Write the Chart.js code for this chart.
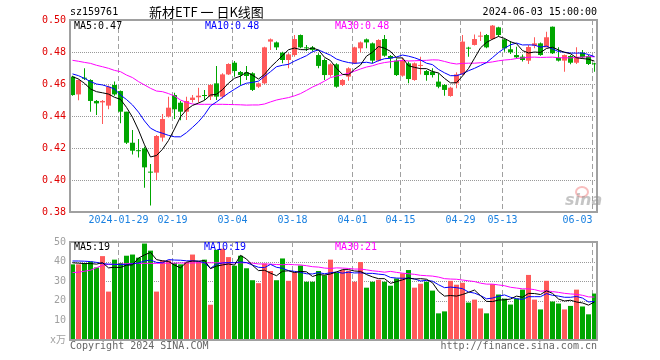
<!doctype html>
<html lang="zh">
<head>
  <meta charset="UTF-8">
  <title>新材ETF 日K线图</title>
  <script src="https://cdn.jsdelivr.net/npm/chart.js"></script>
  <style>
    body { margin: 0; background: #fff; }
    #wrap { position: relative; width: 660px; height: 360px; background: #fff; overflow: hidden; }
    canvas { position: absolute; left: 0; }
    .t { position: absolute; font: 10px/14px "DejaVu Sans Mono", monospace; white-space: pre; }
  </style>
</head>
<body>
<div id="wrap">
  <canvas id="kChart" width="660" height="232" style="top:0"></canvas>
  <canvas id="volChart" width="660" height="128" style="top:232px"></canvas>

  <div class="t" style="left:70px;top:5px;color:#000">sz159761</div>
  <div class="t" style="left:149px;top:3px;font:13px/17px 'Noto Sans CJK SC', sans-serif;color:#000">新材ETF 一 日K线图</div>
  <div class="t" style="right:63px;top:5px;color:#000">2024-06-03 15:00:00</div>

  <div class="t" style="left:74px;top:19px;color:#000">MA5:0.47</div>
  <div class="t" style="left:205px;top:19px;color:#0000ff">MA10:0.48</div>
  <div class="t" style="left:335px;top:19px;color:#ff00ff">MA30:0.48</div>

  <div class="t" style="left:74px;top:240px;color:#000">MA5:19</div>
  <div class="t" style="left:204px;top:240px;color:#0000ff">MA10:19</div>
  <div class="t" style="left:335px;top:240px;color:#ff00ff">MA30:21</div>

  <div class="t" style="left:70px;top:339px;color:#666">Copyright 2024 SINA.COM</div>
  <div class="t" style="right:63px;top:339px;color:#666">http://finance.sina.com.cn</div>

  <div style="position:absolute;left:575px;top:186px;width:10px;height:8px;border:2px solid rgba(240,110,110,0.45);border-radius:50%"></div>
  <div class="t" style="left:565px;top:191px;font:italic bold 16px/17px 'DejaVu Sans', sans-serif;color:rgba(150,150,150,0.55)">sina</div>
</div>
<script>
  // 日K数据 2024-01-17 ~ 2024-06-03，共88个交易日
  const opens = [
    0.4646, 0.4535, 0.4638, 0.4625, 0.4494, 0.4485, 0.4465, 0.4594, 0.4556, 0.4427,
    0.4233, 0.4183, 0.4198, 0.4048, 0.4046, 0.4265, 0.4396, 0.4531, 0.4483, 0.4427,
    0.4500, 0.4517, 0.4529, 0.4521, 0.4604, 0.4521, 0.4660, 0.4733, 0.4675, 0.4673,
    0.4667, 0.4583, 0.4604, 0.4865, 0.4860, 0.4796, 0.4750, 0.4781, 0.4906, 0.4829,
    0.4829, 0.4781, 0.4750, 0.4656, 0.4723, 0.4594, 0.4646, 0.4729, 0.4823, 0.4879,
    0.4854, 0.4746, 0.4881, 0.4775, 0.4746, 0.4652, 0.4729, 0.4625, 0.4713, 0.4681,
    0.4677, 0.4615, 0.4594, 0.4525, 0.4604, 0.4660, 0.4825, 0.4844, 0.4896, 0.4906,
    0.4881, 0.4954, 0.4879, 0.4817, 0.4781, 0.4771, 0.4746, 0.4840, 0.4854, 0.4829,
    0.4958, 0.4765, 0.4746, 0.4775, 0.4733, 0.4796, 0.4775, 0.4727
  ];
  const highs = [
    0.4652, 0.4629, 0.4698, 0.4629, 0.4500, 0.4500, 0.4590, 0.4615, 0.4560, 0.4427,
    0.4313, 0.4256, 0.4208, 0.4100, 0.4281, 0.4413, 0.4520, 0.4546, 0.4494, 0.4521,
    0.4531, 0.4577, 0.4563, 0.4600, 0.4713, 0.4667, 0.4729, 0.4744, 0.4681, 0.4713,
    0.4673, 0.4610, 0.4833, 0.4885, 0.4865, 0.4802, 0.4792, 0.4906, 0.4910, 0.4844,
    0.4838, 0.4792, 0.4760, 0.4729, 0.4729, 0.4631, 0.4704, 0.4833, 0.4865, 0.4885,
    0.4860, 0.4879, 0.4906, 0.4781, 0.4760, 0.4765, 0.4740, 0.4735, 0.4771, 0.4688,
    0.4698, 0.4667, 0.4600, 0.4583, 0.4673, 0.4906, 0.4833, 0.4910, 0.4927, 0.4913,
    0.4969, 0.4958, 0.4885, 0.4869, 0.4833, 0.4785, 0.4844, 0.4892, 0.4860, 0.4927,
    0.4960, 0.4829, 0.4785, 0.4781, 0.4829, 0.4813, 0.4781, 0.4733
  ];
  const lows = [
    0.4527, 0.4498, 0.4625, 0.4427, 0.4406, 0.4350, 0.4442, 0.4527, 0.4354, 0.4225,
    0.4160, 0.4140, 0.3952, 0.3840, 0.4000, 0.4240, 0.4390, 0.4381, 0.4373, 0.4375,
    0.4485, 0.4485, 0.4500, 0.4500, 0.4500, 0.4510, 0.4656, 0.4646, 0.4590, 0.4625,
    0.4556, 0.4575, 0.4600, 0.4813, 0.4813, 0.4729, 0.4698, 0.4771, 0.4823, 0.4806,
    0.4804, 0.4698, 0.4625, 0.4646, 0.4577, 0.4588, 0.4621, 0.4725, 0.4798, 0.4823,
    0.4729, 0.4740, 0.4771, 0.4698, 0.4650, 0.4646, 0.4604, 0.4621, 0.4660, 0.4621,
    0.4640, 0.4573, 0.4527, 0.4520, 0.4573, 0.4656, 0.4771, 0.4840, 0.4869, 0.4823,
    0.4875, 0.4896, 0.4802, 0.4788, 0.4760, 0.4740, 0.4725, 0.4823, 0.4777, 0.4829,
    0.4788, 0.4740, 0.4677, 0.4723, 0.4725, 0.4760, 0.4719, 0.4677
  ];
  const closes = [
    0.4531, 0.4625, 0.4633, 0.4494, 0.4479, 0.4494, 0.4583, 0.4535, 0.4427, 0.4233,
    0.4183, 0.4180, 0.4079, 0.4046, 0.4275, 0.4381, 0.4452, 0.4442, 0.4427, 0.4494,
    0.4515, 0.4527, 0.4525, 0.4594, 0.4521, 0.4660, 0.4725, 0.4681, 0.4656, 0.4650,
    0.4563, 0.4604, 0.4829, 0.4879, 0.4829, 0.4750, 0.4785, 0.4881, 0.4829, 0.4823,
    0.4813, 0.4713, 0.4656, 0.4723, 0.4583, 0.4625, 0.4698, 0.4829, 0.4860, 0.4860,
    0.4746, 0.4875, 0.4777, 0.4760, 0.4656, 0.4746, 0.4631, 0.4729, 0.4719, 0.4656,
    0.4656, 0.4583, 0.4563, 0.4577, 0.4660, 0.4865, 0.4821, 0.4881, 0.4902, 0.4829,
    0.4965, 0.4906, 0.4823, 0.4798, 0.4767, 0.4750, 0.4831, 0.4854, 0.4781, 0.4892,
    0.4792, 0.4746, 0.4781, 0.4733, 0.4767, 0.4767, 0.4725, 0.4723
  ];
  const ma5 = [
    0.4646, 0.4631, 0.4604, 0.4569, 0.4552, 0.4545, 0.4537, 0.4517, 0.4504, 0.4454,
    0.4392, 0.4312, 0.4220, 0.4144, 0.4153, 0.4192, 0.4247, 0.4319, 0.4395, 0.4439,
    0.4466, 0.4481, 0.4498, 0.4531, 0.4536, 0.4565, 0.4605, 0.4636, 0.4649, 0.4674,
    0.4655, 0.4631, 0.4660, 0.4705, 0.4741, 0.4778, 0.4814, 0.4825, 0.4815, 0.4814,
    0.4826, 0.4812, 0.4767, 0.4746, 0.4698, 0.4660, 0.4657, 0.4692, 0.4719, 0.4774,
    0.4799, 0.4834, 0.4824, 0.4804, 0.4763, 0.4763, 0.4714, 0.4704, 0.4696, 0.4696,
    0.4678, 0.4669, 0.4635, 0.4607, 0.4608, 0.4650, 0.4697, 0.4761, 0.4826, 0.4860,
    0.4880, 0.4897, 0.4885, 0.4864, 0.4852, 0.4809, 0.4794, 0.4800, 0.4797, 0.4822,
    0.4830, 0.4813, 0.4798, 0.4789, 0.4764, 0.4759, 0.4755, 0.4743
  ];
  const ma10 = [
    0.4663, 0.4652, 0.4635, 0.4615, 0.4600, 0.4594, 0.4583, 0.4569, 0.4531, 0.4503,
    0.4469, 0.4424, 0.4369, 0.4324, 0.4304, 0.4292, 0.4279, 0.4270, 0.4270, 0.4296,
    0.4329, 0.4364, 0.4408, 0.4463, 0.4488, 0.4516, 0.4543, 0.4567, 0.4590, 0.4605,
    0.4610, 0.4618, 0.4648, 0.4677, 0.4708, 0.4717, 0.4723, 0.4743, 0.4760, 0.4777,
    0.4802, 0.4813, 0.4796, 0.4780, 0.4756, 0.4743, 0.4734, 0.4729, 0.4732, 0.4736,
    0.4729, 0.4746, 0.4758, 0.4761, 0.4769, 0.4781, 0.4774, 0.4764, 0.4750, 0.4730,
    0.4721, 0.4691, 0.4670, 0.4652, 0.4652, 0.4664, 0.4683, 0.4698, 0.4716, 0.4734,
    0.4765, 0.4797, 0.4823, 0.4845, 0.4856, 0.4844, 0.4845, 0.4843, 0.4830, 0.4837,
    0.4819, 0.4803, 0.4799, 0.4793, 0.4793, 0.4794, 0.4784, 0.4771
  ];
  const ma30 = [
    0.4748, 0.4742, 0.4735, 0.4729, 0.4717, 0.4708, 0.4698, 0.4685, 0.4677, 0.4656,
    0.4640, 0.4615, 0.4594, 0.4573, 0.4556, 0.4552, 0.4540, 0.4525, 0.4500, 0.4485,
    0.4475, 0.4473, 0.4473, 0.4473, 0.4473, 0.4473, 0.4472, 0.4471, 0.4470, 0.4468,
    0.4469, 0.4469, 0.4475, 0.4488, 0.4500, 0.4508, 0.4515, 0.4526, 0.4540, 0.4560,
    0.4581, 0.4598, 0.4618, 0.4640, 0.4650, 0.4658, 0.4667, 0.4680, 0.4694, 0.4706,
    0.4714, 0.4726, 0.4734, 0.4739, 0.4744, 0.4747, 0.4744, 0.4745, 0.4747, 0.4748,
    0.4751, 0.4750, 0.4741, 0.4731, 0.4725, 0.4729, 0.4730, 0.4730, 0.4733, 0.4733,
    0.4738, 0.4745, 0.4750, 0.4753, 0.4759, 0.4763, 0.4767, 0.4768, 0.4766, 0.4767,
    0.4768, 0.4764, 0.4764, 0.4763, 0.4767, 0.4768, 0.4771, 0.4770
  ];

  // 成交量（万手）
  const volumes = [
    38.6, 38.6, 39.3, 40.0, 37.0, 42.8, 24.7, 41.0, 39.3, 43.0,
    43.6, 42.0, 49.2, 45.6, 24.7, 40.6, 40.6, 39.3, 38.6, 39.6,
    43.6, 40.0, 41.0, 18.0, 46.0, 46.6, 42.3, 37.9, 43.0, 36.6,
    30.5, 29.0, 39.0, 35.2, 30.5, 41.6, 30.2, 34.5, 38.0, 29.7,
    29.7, 35.2, 33.0, 41.0, 34.4, 35.7, 35.2, 29.7, 39.8, 26.7,
    29.7, 30.7, 29.7, 27.7, 31.4, 34.0, 35.7, 26.7, 28.7, 29.7,
    25.2, 13.6, 14.6, 30.2, 28.2, 29.2, 19.1, 20.6, 16.1, 13.6,
    28.5, 23.2, 21.1, 18.1, 21.1, 25.7, 33.2, 20.6, 15.6, 30.2,
    19.6, 18.6, 15.6, 17.4, 25.7, 17.1, 13.1, 23.7
  ];
  const vma5 = [
    39.4, 39.2, 39.0, 39.0, 38.7, 39.5, 36.8, 37.1, 37.0, 38.2,
    38.3, 41.8, 43.4, 44.7, 41.0, 40.4, 40.1, 38.2, 36.8, 39.7,
    40.3, 40.2, 40.6, 36.4, 37.7, 38.3, 38.8, 38.2, 43.2, 41.3,
    38.1, 35.4, 35.6, 34.1, 32.8, 35.1, 35.3, 34.4, 35.0, 34.8,
    32.4, 33.4, 33.1, 33.7, 34.7, 35.9, 35.9, 35.2, 35.0, 33.4,
    32.2, 31.3, 31.3, 28.9, 29.8, 30.7, 31.7, 31.1, 31.3, 31.0,
    29.2, 24.8, 22.4, 22.7, 22.4, 23.2, 24.3, 25.5, 22.6, 19.7,
    19.6, 20.4, 20.5, 20.9, 22.4, 21.8, 23.8, 23.7, 23.2, 25.1,
    23.8, 20.9, 19.9, 20.3, 19.4, 18.9, 17.8, 19.4
  ];
  const vma10 = [
    40.3, 40.3, 40.2, 40.0, 39.6, 39.0, 38.7, 38.6, 38.5, 38.4,
    38.9, 39.3, 40.3, 40.8, 39.6, 39.4, 41.0, 40.8, 40.7, 40.4,
    40.4, 40.2, 39.4, 36.6, 38.7, 39.3, 39.5, 39.4, 39.8, 39.5,
    38.2, 37.1, 36.9, 38.6, 37.1, 36.6, 35.4, 35.0, 34.5, 33.8,
    33.7, 34.4, 33.8, 34.3, 34.7, 34.1, 34.6, 34.2, 34.3, 34.0,
    34.0, 33.6, 33.3, 31.9, 31.6, 31.5, 31.5, 31.2, 30.1, 30.4,
    30.0, 28.2, 26.7, 27.0, 26.7, 26.2, 24.5, 23.9, 22.7, 21.0,
    21.4, 22.3, 23.0, 21.8, 21.1, 20.7, 22.1, 22.1, 22.1, 23.7,
    22.8, 22.4, 21.8, 21.8, 22.2, 21.4, 19.4, 19.7
  ];
  const vma30 = [
    34.4, 34.6, 35.1, 35.6, 36.9, 38.1, 38.6, 38.6, 38.7, 38.9,
    39.0, 39.1, 39.1, 39.1, 39.1, 39.2, 39.2, 39.2, 39.3, 39.3,
    39.3, 39.4, 39.4, 39.4, 39.4, 39.4, 39.4, 39.4, 39.4, 39.4,
    39.2, 38.8, 38.8, 38.7, 38.5, 38.4, 38.6, 38.4, 38.3, 37.9,
    37.4, 37.2, 36.7, 36.5, 36.8, 36.7, 36.5, 36.2, 36.2, 35.8,
    35.3, 35.0, 34.6, 35.0, 34.5, 34.1, 33.8, 33.5, 33.0, 32.8,
    32.6, 32.1, 31.3, 31.1, 31.0, 30.6, 30.2, 29.8, 29.0, 28.5,
    28.5, 28.1, 27.7, 26.9, 26.5, 26.1, 26.1, 25.7, 24.9, 25.1,
    24.7, 24.3, 23.8, 23.5, 23.3, 22.8, 22.0, 21.9
  ];

  // 横轴刻度：交易日序号与日期（末尾标签靠右对齐，不超出画图区）
  const tickIdx = [8, 17, 27, 37, 47, 55, 65, 72, 87];
  const tickLabels = ['2024-01-29', '02-19', '03-04', '03-18', '04-01', '04-15', '04-29', '05-13', '06-03'];

  const RED = '#ff5a5a';
  const GREEN = '#00a600';
  const MONO = '"DejaVu Sans Mono", "Noto Sans CJK SC", monospace';

  Chart.defaults.font.family = MONO;
  Chart.defaults.font.size = 10;

  const idx = closes.map((c, i) => i);
  const colors = idx.map(i => closes[i] > opens[i] ? RED : GREEN);

  // 网格线：横向点线、纵向虚线，逐段画出，位置取自坐标轴刻度
  const gridLines = {
    id: 'gridLines',
    beforeDatasetsDraw(chart) {
      const {ctx, chartArea: a, scales: {x, y}} = chart;
      ctx.save();
      ctx.fillStyle = '#999999';
      y.ticks.forEach(t => {
        const py = Math.round(y.getPixelForValue(t.value));
        for (let px = a.left; px < a.right; px += 2) ctx.fillRect(px, py, 1, 1);
      });
      ctx.fillStyle = '#a0a0a0';
      x.ticks.forEach(t => {
        const px = Math.round(x.getPixelForValue(t.value) - 0.5);
        for (let py = a.top; py < a.bottom; py += 8) ctx.fillRect(px, py, 1, Math.min(5, a.bottom - py));
      });
      ctx.restore();
    }
  };

  // 画图区外框
  const frame = {
    id: 'frame',
    afterDraw(chart) {
      const {ctx, chartArea: a} = chart;
      ctx.save();
      ctx.strokeStyle = '#a0a0a0';
      ctx.lineWidth = 2;
      ctx.strokeRect(a.left, a.top, a.right - a.left, a.bottom - a.top);
      ctx.restore();
    }
  };

  function line(values, color, order) {
    return {
      type: 'line',
      data: idx.map(i => ({x: i, y: values[i]})),
      borderColor: color,
      borderWidth: 1,
      pointRadius: 0,
      tension: 0,
      order: order
    };
  }

  function xScale(showLabels) {
    return {
      type: 'linear',
      offset: false,
      min: -2.5 / 6,
      max: 87 + 2.5 / 6,
      afterFit: s => { s.height = 20; },
      afterBuildTicks: s => { s.ticks = tickIdx.map(i => ({value: i - 1 / 3})); },
      ticks: {
        display: showLabels,
        autoSkip: false,
        maxRotation: 0,
        padding: 2,
        color: '#1a80e0',
        callback: (v, k) => k === tickLabels.length - 1 ? tickLabels[k] + '     ' : tickLabels[k]
      },
      grid: {display: false, drawTicks: false},
      border: {display: false}
    };
  }

  function baseOptions(padTop, yScale) {
    return {
      responsive: false,
      animation: false,
      devicePixelRatio: 1,
      layout: {padding: {top: padTop, right: 63, left: 0, bottom: 0}},
      plugins: {legend: {display: false}, tooltip: {enabled: false}},
      scales: {x: xScale(padTop === 20), y: yScale}
    };
  }

  new Chart(document.getElementById('kChart'), {
    type: 'bar',
    data: {
      datasets: [
        line(ma5, '#000000', 1),
        line(ma10, '#0000ff', 2),
        line(ma30, '#ff00ff', 3),
        {
          data: idx.map(i => ({x: i, y: [opens[i], closes[i]]})),
          backgroundColor: colors,
          barThickness: 5,
          minBarLength: 1,
          grouped: false,
          inflateAmount: 0,
          borderWidth: 0,
          order: 4
        },
        {
          data: idx.map(i => ({x: i, y: [lows[i], highs[i]]})),
          backgroundColor: colors,
          barThickness: 1,
          grouped: false,
          inflateAmount: 0,
          borderWidth: 0,
          order: 5
        }
      ]
    },
    options: baseOptions(20, {
      min: 0.38,
      max: 0.50,
      afterFit: s => { s.width = 70; },
      ticks: {stepSize: 0.02, padding: 4, color: '#e00000', callback: v => v.toFixed(2)},
      grid: {display: false, drawTicks: false},
      border: {display: false}
    }),
    plugins: [gridLines, frame]
  });

  new Chart(document.getElementById('volChart'), {
    type: 'bar',
    data: {
      datasets: [
        line(vma5, '#000000', 1),
        line(vma10, '#0000ff', 2),
        line(vma30, '#ff00ff', 3),
        {
          data: idx.map(i => ({x: i, y: volumes[i]})),
          backgroundColor: colors,
          barThickness: 5,
          grouped: false,
          inflateAmount: 0,
          borderWidth: 0,
          order: 4
        }
      ]
    },
    options: baseOptions(8, {
      min: 0,
      max: 50,
      afterFit: s => { s.width = 70; },
      ticks: {stepSize: 10, padding: 4, color: '#a0a0a0', callback: v => v === 0 ? 'x万' : v},
      grid: {display: false, drawTicks: false},
      border: {display: false}
    }),
    plugins: [gridLines, frame]
  });
</script>
</body>
</html>
